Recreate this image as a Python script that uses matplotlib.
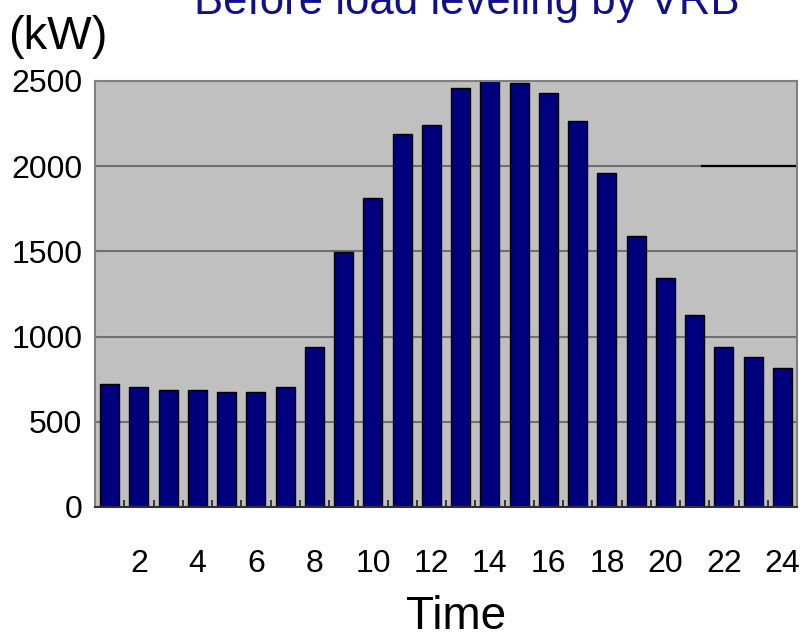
import numpy as np
import matplotlib.pyplot as plt

plt.rcParams['font.family'] = ['Liberation Sans', 'DejaVu Sans']

# hourly load before leveling (kW)
hours = np.arange(1, 25)
load_kw = [723, 704, 686, 686, 672, 672, 704, 939, 1494, 1812, 2188, 2239,
           2457, 2505, 2486, 2428, 2263, 1963, 1590, 1341, 1125, 939, 878, 818]
y_ticks = [0, 500, 1000, 1500, 2000, 2500]
x_ticks = list(range(2, 25, 2))

fig = plt.figure(figsize=(8.1, 6.4), dpi=100)
ax = fig.add_axes([95/810, 1 - 507/640, 702/810, 426/640])
ax.set_facecolor('#c0c0c0')

# grid lines behind the bars
for v in y_ticks[1:]:
    ax.axhline(v, color='#707070', lw=1.5, zorder=1)
ax.axhline(2000, xmin=0.865, xmax=1, color='black', lw=1.6, zorder=1)

ax.bar(hours, load_kw, width=0.65, color='#00007f', edgecolor='black',
       linewidth=1.0, zorder=2)

ax.set_xlim(0.5, 24.5)
ax.set_ylim(0, 2500)
ax.set_yticks(y_ticks)
ax.set_xticks(x_ticks)
ax.set_xticks(np.arange(0.5, 25, 1), minor=True)
ax.tick_params(axis='y', length=0, pad=9, labelsize=23)
ax.tick_params(axis='x', which='major', length=0, pad=30, labelsize=23)
ax.tick_params(axis='x', which='minor', direction='in', length=5,
               width=1.2, color='#202020')

for side in ['left', 'top', 'right']:
    ax.spines[side].set_color('#808080')
    ax.spines[side].set_linewidth(1.5)
ax.spines['bottom'].set_color('#303030')
ax.spines['bottom'].set_linewidth(1.5)

fig.text(467/810, 1 - 14/640, 'Before load leveling by VRB', color='#10108a',
         fontsize=31.5, ha='center', va='baseline')
fig.text(8/810, 1 - 49/640, '(kW)', fontsize=34, ha='left', va='baseline')
fig.text(456/810, 0.002, 'Time', fontsize=33, ha='center', va='bottom')

fig.savefig('out.png', dpi=100)
